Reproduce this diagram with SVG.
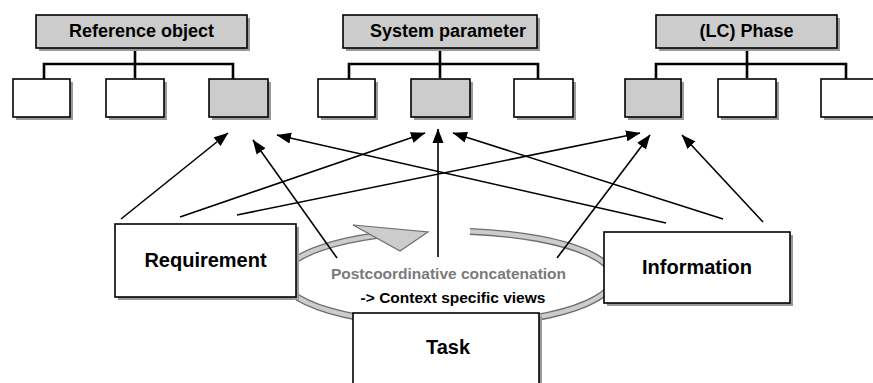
<svg xmlns="http://www.w3.org/2000/svg" width="873" height="383" viewBox="0 0 873 383">
  <style>
    .shadow { fill: #9a9a9a; }
    .box { fill: #ffffff; stroke: #000000; stroke-width: 1.6; }
    .hdr { fill: #cccccc; stroke: #000000; stroke-width: 1.6; }
    .sel { fill: #cccccc; stroke: #000000; stroke-width: 1.6; }
    .tree { fill: none; stroke: #000000; stroke-width: 2.6; }
    .arrow { fill: none; stroke: #000000; stroke-width: 1.6; marker-end: url(#head); }
    .htxt { font-family: "Liberation Sans", Arial, sans-serif; font-weight: bold; font-size: 18px; fill: #000; text-anchor: middle; }
    .btxt { font-family: "Liberation Sans", Arial, sans-serif; font-weight: bold; font-size: 20px; fill: #000; text-anchor: middle; }
    .ctxt { font-family: "Liberation Sans", Arial, sans-serif; font-weight: bold; font-size: 15.5px; text-anchor: middle; }
  </style>
  <defs>
    <marker id="head" markerUnits="userSpaceOnUse" markerWidth="15" markerHeight="12" refX="14" refY="6" orient="auto">
      <path d="M0,0.5 L14.5,6 L0,11.5 z" fill="#000000"/>
    </marker>
  </defs>

  <rect width="873" height="383" fill="#ffffff"/>

  <!-- hierarchy: Reference object -->
  <g id="reference-object">
    <path class="tree" d="M135,48 V78 M44,79 V64 H233 V79"/>
    <rect class="shadow" x="39" y="18" width="211" height="33"/>
    <rect class="hdr" x="36" y="15" width="211" height="33"/>
    <text class="htxt" x="141.5" y="37">Reference object</text>
    <rect class="shadow" x="16" y="82" width="57" height="38"/>
    <rect class="box" x="13" y="79" width="57" height="38"/>
    <rect class="shadow" x="109" y="82" width="58" height="38"/>
    <rect class="box" x="106" y="79" width="58" height="38"/>
    <rect class="shadow" x="212" y="82" width="59" height="38"/>
    <rect class="sel" x="209" y="79" width="59" height="38"/>
  </g>

  <!-- hierarchy: System parameter -->
  <g id="system-parameter">
    <path class="tree" d="M440,48 V78 M349,79 V64 H538 V79"/>
    <rect class="shadow" x="346" y="18" width="194" height="33"/>
    <rect class="hdr" x="343" y="15" width="194" height="33"/>
    <text class="htxt" x="448" y="37">System parameter</text>
    <rect class="shadow" x="321" y="82" width="57" height="38"/>
    <rect class="box" x="318" y="79" width="57" height="38"/>
    <rect class="shadow" x="414" y="82" width="59" height="38"/>
    <rect class="sel" x="411" y="79" width="59" height="38"/>
    <rect class="shadow" x="517" y="82" width="59" height="38"/>
    <rect class="box" x="514" y="79" width="59" height="38"/>
  </g>

  <!-- hierarchy: (LC) Phase -->
  <g id="lc-phase">
    <path class="tree" d="M747,48 V78 M656,79 V64 H846 V79"/>
    <rect class="shadow" x="659" y="18" width="181" height="33"/>
    <rect class="hdr" x="656" y="15" width="181" height="33"/>
    <text class="htxt" x="746.5" y="37">(LC) Phase</text>
    <rect class="shadow" x="628" y="82" width="56" height="38"/>
    <rect class="sel" x="625" y="79" width="56" height="38"/>
    <rect class="shadow" x="721" y="82" width="58" height="38"/>
    <rect class="box" x="718" y="79" width="58" height="38"/>
    <rect class="shadow" x="824" y="82" width="60" height="38"/>
    <rect class="box" x="821" y="79" width="60" height="38"/>
  </g>

  <!-- cyclic band with block arrowhead -->
  <g id="cycle">
    <path d="M470,231.4 A165,47 0 1 1 378,235.4" fill="none" stroke="#6e6e6e" stroke-width="7"/>
    <path d="M470,231.4 A165,47 0 1 1 378,235.4" fill="none" stroke="#cccccc" stroke-width="4.4"/>
    <polygon points="353,225 428,232 400,251" fill="#cccccc" stroke="#6e6e6e" stroke-width="1.2" stroke-linejoin="miter"/>
    <text class="ctxt" x="448.5" y="279" fill="#7a7a7a">Postcoordinative concatenation</text>
    <text class="ctxt" x="453" y="303" fill="#000000">-&gt; Context specific views</text>
  </g>

  <!-- connectors -->
  <g id="connectors">
    <line class="arrow" x1="121" y1="219" x2="228" y2="133"/>
    <line class="arrow" x1="180" y1="217" x2="425" y2="133"/>
    <line class="arrow" x1="237" y1="215" x2="640" y2="133"/>
    <line class="arrow" x1="337" y1="258" x2="253" y2="140"/>
    <line class="arrow" x1="438" y1="257" x2="438" y2="129"/>
    <line class="arrow" x1="666" y1="223" x2="277" y2="135"/>
    <line class="arrow" x1="723" y1="219" x2="453" y2="133"/>
    <line class="arrow" x1="557" y1="258" x2="650" y2="135"/>
    <line class="arrow" x1="763" y1="222" x2="682" y2="135"/>
  </g>

  <g id="requirement">
    <rect class="shadow" x="118" y="227" width="181" height="73"/>
    <rect class="box" x="115" y="224" width="181" height="73"/>
    <text class="btxt" x="205.5" y="267">Requirement</text>
  </g>

  <g id="information">
    <rect class="shadow" x="607" y="235" width="186" height="71"/>
    <rect class="box" x="604" y="232" width="186" height="71"/>
    <text class="btxt" x="697" y="274">Information</text>
  </g>

  <g id="task">
    <rect class="shadow" x="356" y="316" width="186" height="90"/>
    <rect class="box" x="353" y="313" width="186" height="90"/>
    <text class="btxt" x="448" y="354">Task</text>
  </g>
</svg>
